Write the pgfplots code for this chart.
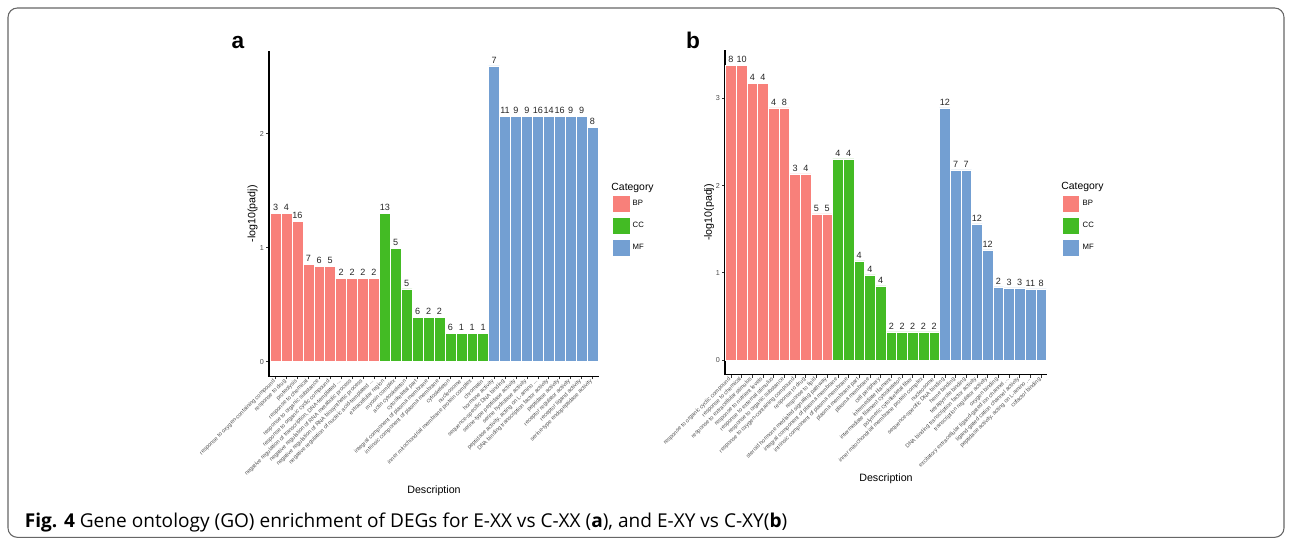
\documentclass[border=0pt]{standalone}
\usepackage{pgfplots}
\pgfplotsset{compat=1.18}
\usepackage{fontspec}
\setmainfont{Liberation Sans}
\newfontfamily\capfont{Open Sans}
\definecolor{bp}{HTML}{F8807A}
\definecolor{cc}{HTML}{43BB24}
\definecolor{mf}{HTML}{739FD2}
\definecolor{tk}{HTML}{4D4D4D}
\newcommand{\el}{.\kern0pt.\kern0pt.}
\pgfplotsset{
  sqlegend/.style={legend image code/.code={\fill[##1] (0pt,-6.4pt) rectangle (12.8pt,6.4pt);}},
  gobar/.style={ybar, bar width=1, bar shift=0pt, draw=white, line width=0.4pt, fill=#1, sqlegend},
  goaxis/.style={
    scale only axis, axis lines=left,
    axis line style={-, line width=0.9pt, black},
    xtick={0,...,29}, tick align=outside, major tick length=2.2pt,
    tick style={line width=0.45pt, color=black!80},
    x tick label style={rotate=45, anchor=east, font=\fontsize{4.2}{5}\selectfont, text=tk, inner sep=1pt},
    y tick label style={font=\fontsize{5.4}{6}\selectfont, text=tk, inner sep=1.5pt},
    /pgf/number format/assume math mode=true,
    xmin=-0.6, xmax=29.6,
    nodes near coords, point meta=explicit symbolic,
    every node near coord/.append style={font=\fontsize{6.8}{8}\selectfont, text=black!85, inner sep=1.6pt},
    ylabel={-log10(padj)}, xlabel={Description},
    label style={font=\fontsize{8}{9.6}\selectfont},
    legend style={draw=none, fill=none, font=\fontsize{5.8}{7}\selectfont, row sep=3.2pt, inner sep=0pt, legend cell align=left, anchor=north west},
    clip=false,
  }
}
\begin{document}
\begin{tikzpicture}
\path[use as bounding box] (0,0) rectangle (969pt,406.5pt);
\draw[black!60, line width=0.8pt, rounded corners=7pt] (6pt,3.5pt) rectangle (963pt,400.5pt);
% panel a
\begin{axis}[goaxis, at={(201.75pt,124.1pt)}, anchor=south west,
  width=247.5pt, height=244.1pt, ymin=-0.13, ymax=2.726, ytick={0,1,2},
  ylabel style={at={(rel axis cs:0,0.5)}, anchor=center, rotate=0, xshift=0pt, yshift=12.2pt},
  xlabel style={at={(rel axis cs:0.5,0)}, anchor=center, yshift=-85.9pt},
  legend style={at={(1.04,0.558)}},
  xticklabels={{response to oxygen-containing compound},{response to drug},{proteolysis},{response to chemical},{response to organic substance},{response to organic cyclic compound},{negative regulation of transcription, DNA-templated \el},{negative regulation of RNA metabolic process},{negative regulation of RNA biosynthetic process},{negative regulation of nucleic acid-templated \el},
  {extracellular region},{myosin complex},{actin cytoskeleton},{cytoskeletal part},{integral component of plasma membrane},{intrinsic component of plasma membrane},{cytoskeleton},{nucleosome},{inner mitochondrial membrane protein complex},{chromatin},
  {hormone activity},{sequence-specific DNA binding},{serine-type peptidase activity},{serine hydrolase activity},{peptidase activity, acting on L-amino \el},{DNA binding transcription factor activity},{peptidase activity},{receptor regulator activity},{receptor ligand activity},{serine-type endopeptidase activity}}]
\addplot[gobar=bp] table[meta=n] {
x y n
0 1.304 3
1 1.304 4
2 1.234 16
3 0.857 7
4 0.839 6
5 0.839 5
6 0.734 2
7 0.734 2
8 0.734 2
9 0.734 2
};
\addlegendentry{BP}
\addplot[gobar=cc] table[meta=n] {
x y n
10 1.304 13
11 0.997 5
12 0.640 5
13 0.392 6
14 0.392 2
15 0.392 2
16 0.251 6
17 0.251 1
18 0.251 1
19 0.251 1
};
\addlegendentry{CC}
\addplot[gobar=mf] table[meta=n] {
x y n
20 2.596 7
21 2.155 11
22 2.155 9
23 2.155 9
24 2.155 16
25 2.155 14
26 2.155 16
27 2.155 9
28 2.155 9
29 2.058 8
};
\addlegendentry{MF}
\node[anchor=west, font=\fontsize{7.8}{9}\selectfont, inner sep=0pt] at (rel axis cs:1.037,0.58) {Category};
\end{axis}
% panel b
\begin{axis}[goaxis, at={(543.75pt,125.5pt)}, anchor=south west,
  width=241.5pt, height=243.2pt, ymin=-0.169, ymax=3.549, ytick={0,1,2,3},
  xmin=-0.55, xmax=29.55,
  ylabel style={at={(rel axis cs:0,0.5)}, anchor=center, xshift=0pt, yshift=12pt},
  xlabel style={at={(rel axis cs:0.5,0)}, anchor=center, yshift=-78.2pt},
  legend style={at={(1.047,0.554)}},
  xticklabels={{response to organic cyclic compound},{response to chemical},{response to extracellular stimulus},{response to nutrient levels},{response to external stimulus},{response to organic substance},{response to oxygen-containing compound},{response to drug},{response to lipid},{steroid hormone mediated signaling pathway},
  {integral component of plasma membrane},{intrinsic component of plasma membrane},{plasma membrane part},{plasma membrane},{cell periphery},{intermediate filament},{intermediate filament cytoskeleton},{polymeric cytoskeletal fiber},{inner mitochondrial membrane protein complex},{nucleosome},
  {sequence-specific DNA binding},{heme binding},{tetrapyrrole binding},{DNA binding transcription factor activity},{transcription regulator activity},{oxygen binding},{excitatory extracellular ligand-gated ion channel \el},{ligand-gated cation channel activity},{peptidase activity, acting on L-amino \el},{cofactor binding}}]
\addplot[gobar=bp] table[meta=n] {
x y n
0 3.380 8
1 3.380 10
2 3.175 4
3 3.175 4
4 2.889 4
5 2.889 8
6 2.132 3
7 2.132 4
8 1.674 5
9 1.674 5
};
\addlegendentry{BP}
\addplot[gobar=cc] table[meta=n] {
x y n
10 2.304 4
11 2.304 4
12 1.135 4
13 0.974 4
14 0.848 4
15 0.321 2
16 0.321 2
17 0.321 2
18 0.321 2
19 0.321 2
};
\addlegendentry{CC}
\addplot[gobar=mf] table[meta=n] {
x y n
20 2.889 12
21 2.178 7
22 2.178 7
23 1.559 12
24 1.261 12
25 0.837 2
26 0.825 3
27 0.825 3
28 0.814 11
29 0.814 8
};
\addlegendentry{MF}
\node[anchor=west, font=\fontsize{7.8}{9}\selectfont, inner sep=0pt] at (rel axis cs:1.044,0.58) {Category};
\end{axis}
\node[anchor=base, font=\bfseries\fontsize{17}{20}\selectfont, inner sep=0pt] at (178.5pt,369.75pt) {a};
\node[anchor=base, font=\bfseries\fontsize{17}{20}\selectfont, inner sep=0pt] at (519.75pt,369.75pt) {b};
\node[anchor=base west, inner sep=0pt, font=\capfont\fontsize{14.3}{17}\selectfont] at (18.5pt,10.5pt) {\textbf{Fig. 4} Gene ontology (GO) enrichment of DEGs for E-XX vs C-XX (\textbf{a}), and E-XY vs C-XY(\textbf{b})};
\end{tikzpicture}
\end{document}
